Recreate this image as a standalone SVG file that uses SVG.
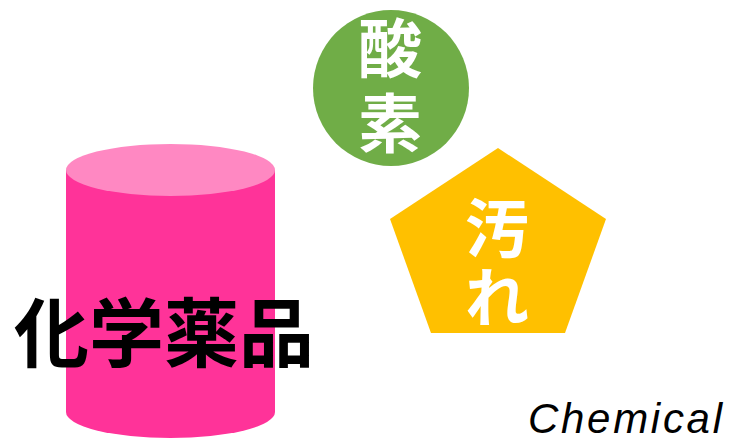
<svg xmlns="http://www.w3.org/2000/svg" width="731" height="439" viewBox="0 0 731 439">
  <style>
    .jp { font-family: "Noto Sans CJK JP", "Noto Sans CJK SC", sans-serif; font-weight: bold; text-anchor: middle; }
    .wt { fill: #FFFFFF; font-size: 64px; }
  </style>
  <rect width="731" height="439" fill="#FFFFFF"/>
  <g id="cylinder">
    <path d="M66,170 L66,412 A104.5,26 0 0 0 275,412 L275,170 Z" fill="#FF3399"/>
    <ellipse cx="170.5" cy="170" rx="104.5" ry="26" fill="#FF88C2"/>
    <text class="jp" x="164" y="361" font-size="75" font-weight="900" fill="#000000">化学薬品</text>
  </g>
  <g id="oxygen">
    <circle cx="391" cy="88" r="78" fill="#70AD47"/>
    <text class="jp wt" x="390" y="72">酸</text>
    <text class="jp wt" x="390" y="147">素</text>
  </g>
  <g id="dirt">
    <polygon points="498,148 606,219 565,333 431,333 390,219" fill="#FFC000"/>
    <text class="jp wt" x="497" y="252">汚</text>
    <text class="jp wt" x="497" y="321">れ</text>
  </g>
  <g id="label">
    <text x="528" y="433" font-family="Liberation Sans, sans-serif" font-style="italic" font-size="42" fill="#000000" textLength="194" lengthAdjust="spacing">Chemical</text>
  </g>
</svg>
